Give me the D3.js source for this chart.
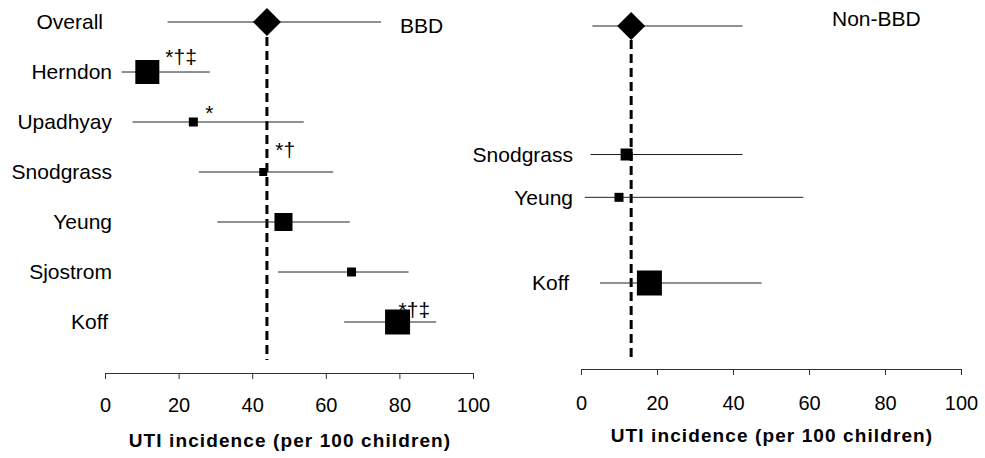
<!DOCTYPE html>
<html>
<head>
<meta charset="utf-8">
<script src="https://cdn.jsdelivr.net/npm/d3@7"></script>
<style>
  body { margin: 0; background: #fff; }
  text { font-family: "Liberation Sans", Arial, sans-serif; fill: #000; }
  .label { font-size: 21px; }
  .title { font-size: 19px; font-weight: bold; }
</style>
</head>
<body>
<script>
// Rows, top to bottom (first row is the pooled estimate)
const studies = ['Overall', 'Herndon', 'Upadhyay', 'Snodgrass', 'Yeung', 'Sjostrom', 'Koff']

// BBD group
const bbdEstimate = [44, 11.5, 24, 43, 48.5, 67, 79.5]
const bbdLower    = [17, 4.5, 7.5, 25.5, 30.5, 47, 65]
const bbdUpper    = [75, 28.5, 54, 62, 66.5, 82.5, 90]
const bbdWeight   = [null, 24, 9, 8, 18, 9, 25]
const bbdNotes    = ['', '*†‡', '*', '*†', '', '', '*†‡']

// Non-BBD group (null = study not in this group)
const nonEstimate = [13.2, null, null, 12, 10, null, 18]
const nonLower    = [3, null, null, 2.5, 1, null, 5]
const nonUpper    = [42.5, null, null, 42.5, 58.5, null, 47.5]
const nonWeight   = [null, null, null, 12, 9, null, 25]
const nonNotes    = ['', '', '', '', '', '', '']

const ticks = [0, 20, 40, 60, 80, 100]
const axisTitle = 'UTI incidence (per 100 children)'

const width = 985
const height = 458

const panels = [
  {
    name: 'BBD', est: bbdEstimate, lo: bbdLower, hi: bbdUpper, w: bbdWeight, notes: bbdNotes,
    x: [105, 473], y: [22, 322], axisY: 373, pad: 19, titleY: 447, nameX: 400, nameY: 26,
    labelX: 112, dashY: [37, 360], showOverall: true,
    noteOffset: { Herndon: [18, -8], Upadhyay: [12, -2], Snodgrass: [12, -15], Koff: [1, -5] }
  },
  {
    name: 'Non-BBD', est: nonEstimate, lo: nonLower, hi: nonUpper, w: nonWeight, notes: nonNotes,
    x: [581, 961], y: [26, 283], axisY: 369, pad: 21, titleY: 442, nameX: 832, nameY: 19,
    labelX: 573, dashY: [40, 358], showOverall: false,
    noteOffset: {}
  }
]

const svg = d3.select('body')
  .append('svg')
  .attr('width', width)
  .attr('height', height)

const size = d3.scaleLinear().domain([0, 25]).range([0, 25])

panels.forEach(p => {
  const x = d3.scaleLinear().domain([0, 100]).range(p.x)
  const y = d3.scalePoint().domain(studies).range(p.y)
  const g = svg.append('g')

  const rows = studies.map((s, i) => ({
    study: s, est: p.est[i], lo: p.lo[i], hi: p.hi[i], w: p.w[i], note: p.notes[i]
  })).filter(d => d.est !== null)

  // reference line at pooled estimate
  g.append('line')
    .attr('x1', x(p.est[0]))
    .attr('x2', x(p.est[0]))
    .attr('y1', p.dashY[0])
    .attr('y2', p.dashY[1])
    .style('stroke', '#000')
    .style('stroke-width', 3)
    .style('stroke-dasharray', '9,5')

  // confidence intervals
  g.selectAll('.ci')
    .data(rows)
    .enter()
    .append('line')
    .attr('class', 'ci')
    .attr('x1', d => x(d.lo))
    .attr('x2', d => x(d.hi))
    .attr('y1', d => y(d.study))
    .attr('y2', d => y(d.study))
    .style('stroke', '#222')
    .style('stroke-width', 1)

  // study squares
  g.selectAll('.box')
    .data(rows.filter(d => d.w !== null))
    .enter()
    .append('rect')
    .attr('class', 'box')
    .attr('x', d => x(d.est) - size(d.w) / 2)
    .attr('y', d => y(d.study) - size(d.w) / 2)
    .attr('width', d => size(d.w))
    .attr('height', d => size(d.w))
    .style('fill', '#000')

  // pooled diamond
  const cx = x(p.est[0])
  const cy = y(studies[0])
  const r = 14
  g.append('path')
    .attr('d', `M${cx - r},${cy}L${cx},${cy - r}L${cx + r},${cy}L${cx},${cy + r}Z`)
    .style('fill', '#000')

  // study labels
  g.selectAll('.label')
    .data(rows.filter(d => p.showOverall || d.study !== 'Overall'))
    .enter()
    .append('text')
    .attr('class', 'label')
    .attr('text-anchor', 'end')
    .attr('x', d => d.study === 'Overall' ? p.labelX - 9 : (d.study === 'Koff' ? p.labelX - 4 : p.labelX))
    .attr('y', d => y(d.study))
    .attr('dy', '0.35em')
    .text(d => d.study)

  // significance marks
  g.selectAll('.note')
    .data(rows.filter(d => d.note))
    .enter()
    .append('text')
    .attr('class', 'label')
    .attr('x', d => x(d.est) + p.noteOffset[d.study][0])
    .attr('y', d => y(d.study) + p.noteOffset[d.study][1])
    .text(d => d.note)

  // group name
  g.append('text')
    .attr('class', 'label')
    .attr('x', p.nameX)
    .attr('y', p.nameY)
    .attr('dy', '0.35em')
    .text(p.name)

  // axis
  const axis = g.append('g')
    .attr('transform', `translate(0, ${p.axisY})`)
    .call(d3.axisBottom(x).tickValues(ticks).tickSize(6).tickPadding(p.pad))
  axis.select('.domain').style('stroke', '#333')
  axis.selectAll('.tick line').style('stroke', '#333')
  axis.selectAll('.tick text')
    .style('font-family', '"Liberation Sans", Arial, sans-serif')
    .style('font-size', '20px')
    .style('fill', '#000')

  g.append('text')
    .attr('class', 'title')
    .attr('text-anchor', 'middle')
    .attr('x', (p.x[0] + p.x[1]) / 2 + 1)
    .attr('y', p.titleY)
    .style('letter-spacing', '1.1px')
    .text(axisTitle)
})
</script>
</body>
</html>
